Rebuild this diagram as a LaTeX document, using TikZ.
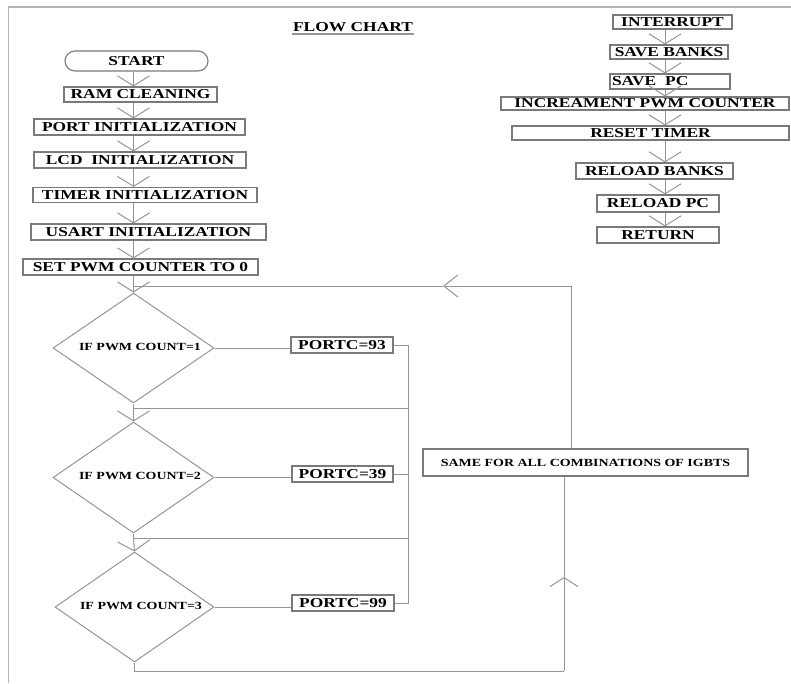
\documentclass[tikz,border=0pt]{standalone}
\usepackage{fontspec}
\usetikzlibrary{arrows.meta,shapes.geometric}
\newfontfamily\fc{Liberation Serif}[FakeStretch=1.28]
\definecolor{linec}{HTML}{959595}
\definecolor{boxc}{HTML}{7A7A7A}
\definecolor{framec}{HTML}{B4B4B4}
\tikzset{
  every node/.style={font=\fc\bfseries\fontsize{13.6}{15}\selectfont, text=black},
  bx/.style={draw=boxc, line width=1.1pt, inner sep=0pt},
  smallfont/.style={font=\fc\bfseries\fontsize{10.9}{12}\selectfont},
  dia/.style={draw=linec, line width=1pt, diamond, inner sep=0pt},
  ln/.style={draw=linec, line width=1pt},
  arr/.style={ln, -{Straight Barb[length=10pt,width=32pt,line width=1pt]}},
  larr/.style={ln, -{Straight Barb[length=14pt,width=22pt,line width=1pt]}},
  uarr/.style={ln, -{Straight Barb[length=9pt,width=28pt,line width=1pt]}},
}
\begin{document}
\begin{tikzpicture}[x=1pt,y=-1pt]
\useasboundingbox (0,0) rectangle (791,683);
% frame
\draw[framec, line width=1.5pt] (8.5,683) -- (8.5,7) -- (791,7);
% title
\node (title) at (353,27) {FLOW CHART};
\draw[linec, line width=1.2pt] (292,34) -- (414,34);

% axes
\coordinate (ax) at (133.5,0);
\coordinate (rax) at (665,0);
\coordinate (bus) at (408,0);

% left column
\node[bx, rounded corners=10pt, minimum width=143pt, minimum height=20pt] (start) at (136.5,61) {START};
\node[bx, minimum width=153pt, minimum height=15pt] (ram) at (140.5,94.5) {RAM CLEANING};
\node[bx, minimum width=211pt, minimum height=16pt] (port) at (139.5,127) {PORT INITIALIZATION};
\node[bx, minimum width=212pt, minimum height=16pt] (lcd) at (140,160) {LCD\ \ INITIALIZATION};
\node[bx, minimum width=224pt, minimum height=15pt] (timer) at (145,195) {TIMER INITIALIZATION};
\node[bx, minimum width=235pt, minimum height=16pt] (usart) at (148.5,232) {USART INITIALIZATION};
\node[bx, minimum width=235pt, minimum height=16pt] (setp) at (140.5,267) {SET PWM COUNTER TO 0};

\draw[arr] (start.south -| ax) -- (ram.north -| ax);
\draw[arr] (ram.south -| ax) -- (port.north -| ax);
\draw[arr] (port.south -| ax) -- (lcd.north -| ax);
\draw[arr] (lcd.south -| ax) -- (timer.north -| ax);
\draw[arr] (timer.south -| ax) -- (usart.north -| ax);
\draw[arr] (usart.south -| ax) -- (setp.north -| ax);

% diamonds
\node[dia, minimum width=161pt, minimum height=110pt] (d1) at (133.5,348) {};
\node[dia, minimum width=161pt, minimum height=111pt] (d2) at (133.5,477.5) {};
\node[dia, minimum width=159pt, minimum height=110pt] (d3) at (134.5,607) {};
\node[smallfont] (t1) at (140,347) {IF PWM COUNT=1};
\node[smallfont] (t2) at (140,476) {IF PWM COUNT=2};
\node[smallfont] (t3) at (141,606) {IF PWM COUNT=3};

\draw[arr] (setp.south -| ax) -- (d1.north);

% port boxes
\node[bx, minimum width=102pt, minimum height=16pt] (p93) at (342,345) {PORTC=93};
\node[bx, minimum width=101pt, minimum height=16pt] (p39) at (342.5,474) {PORTC=39};
\node[bx, minimum width=102pt, minimum height=16pt] (p99) at (343,603) {PORTC=99};

\draw[ln] (d1.east) -- (d1.east -| p93.west);
\draw[ln] (d2.east) -- (d2.east -| p39.west);
\draw[ln] (d3.east) -- (d3.east -| p99.west);
\draw[ln] (p93.east) -- (p93.east -| bus) -- (p99.east -| bus) -- (p99.east);
\draw[ln] (p39.east) -- (p39.east -| bus);

% merges
\coordinate (m1) at (133.5,408);
\coordinate (m2) at (133.5,538);
\draw[ln] (d1.south) -- (m1) -- (m1 -| bus);
\draw[arr] (m1) -- (d2.north);
\draw[ln] (d2.south) -- (m2) -- (m2 -| bus);
\draw[arr] (m2) -- (d3.north);

% same box and loop
\node[bx, smallfont, minimum width=325pt, minimum height=27pt] (same) at (585.5,462.5) {SAME FOR ALL COMBINATIONS OF IGBTS};
\coordinate (lt) at (571,286);
\coordinate (lpa) at (443,286);
\draw[ln] (same.north -| lt) -- (lt);
\draw[larr] (lt) -- (lpa);
\draw[ln] (lpa) -- (lt -| ax);

\coordinate (bl) at (134.5,671);
\coordinate (br) at (564,671);
\coordinate (upa) at (564,577);
\draw[ln] (d3.south) -- (bl) -- (br);
\draw[uarr] (br) -- (upa);
\draw[ln] (upa) -- (same.south -| br);

% right column
\node[bx, minimum width=119pt, minimum height=14pt] (intr) at (672.5,22) {INTERRUPT};
\node[bx, minimum width=118pt, minimum height=14pt] (saveb) at (669,52) {SAVE BANKS};
\node[bx, minimum width=120pt, minimum height=15pt, text width=116pt, align=left] (savepc) at (670,81.5) {SAVE\ \ PC};
\node[bx, minimum width=288pt, minimum height=13pt] (incr) at (645,103.5) {INCREAMENT PWM COUNTER};
\node[bx, minimum width=277pt, minimum height=14pt] (reset) at (650.5,133) {RESET TIMER};
\node[bx, minimum width=157pt, minimum height=16pt] (reloadb) at (654.5,171) {RELOAD BANKS};
\node[bx, minimum width=122pt, minimum height=17pt] (reloadpc) at (658,203.5) {RELOAD PC};
\node[bx, minimum width=122pt, minimum height=16pt] (ret) at (658,235) {RETURN};

\draw[arr] (intr.south -| rax) -- (saveb.north -| rax);
\draw[arr] (saveb.south -| rax) -- (savepc.north -| rax);
\draw[arr] (savepc.south -| rax) -- (incr.north -| rax);
\draw[arr] (incr.south -| rax) -- (reset.north -| rax);
\draw[arr] (reset.south -| rax) -- (reloadb.north -| rax);
\draw[arr] (reloadb.south -| rax) -- (reloadpc.north -| rax);
\draw[arr] (reloadpc.south -| rax) -- (ret.north -| rax);
\end{tikzpicture}
\end{document}
